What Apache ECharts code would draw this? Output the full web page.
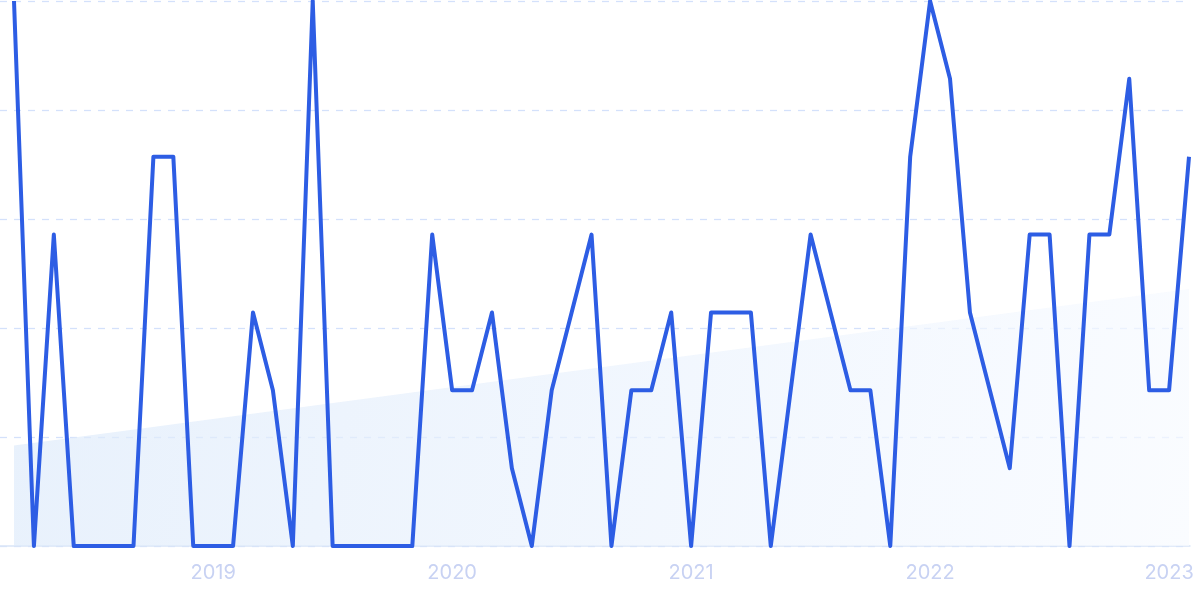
<!DOCTYPE html>
<html>
<head>
<meta charset="utf-8">
<script src="https://cdn.jsdelivr.net/npm/echarts@6/dist/echarts.min.js"></script>
<style>
html,body{margin:0;padding:0;background:#fff;}
#chart{width:1200px;height:599px;}
</style>
</head>
<body>
<div id="chart"></div>
<script>
// Monthly values, 2018-03 .. 2023-02
const months = [
  '2018-03','2018-04','2018-05','2018-06','2018-07','2018-08','2018-09','2018-10','2018-11','2018-12',
  '2019-01','2019-02','2019-03','2019-04','2019-05','2019-06','2019-07','2019-08','2019-09','2019-10','2019-11','2019-12',
  '2020-01','2020-02','2020-03','2020-04','2020-05','2020-06','2020-07','2020-08','2020-09','2020-10','2020-11','2020-12',
  '2021-01','2021-02','2021-03','2021-04','2021-05','2021-06','2021-07','2021-08','2021-09','2021-10','2021-11','2021-12',
  '2022-01','2022-02','2022-03','2022-04','2022-05','2022-06','2022-07','2022-08','2022-09','2022-10','2022-11','2022-12',
  '2023-01','2023-02'
];
const values = [
  7,0,4,0,0,0,0,5,5,0,
  0,0,3,2,0,7,0,0,0,0,0,4,
  2,2,3,1,0,2,3,4,0,2,2,3,
  0,3,3,3,0,2,4,3,2,2,0,5,
  7,6,3,2,1,4,4,0,4,4,6,2,
  2,5
];
// Trend line end values (first and last month)
const trendEnds = [1.29, 3.3];
const tickLabels = ['2019','2020','2021','2022','2023'];
const tickMonths = ['2019-01','2020-01','2021-01','2022-01','2023-01'];

const tickIdx = tickMonths.map(m => months.indexOf(m));
const lineData = values.map((v, i) => [i, v]);
const trendData = [[0, trendEnds[0]], [months.length - 1, trendEnds[1]]];

const chart = echarts.init(document.getElementById('chart'));
chart.setOption({
  animation: false,
  grid: { left: 0, right: 10, top: 1, bottom: 53, containLabel: false },
  xAxis: {
    type: 'value',
    min: -0.703,
    max: 59.05,
    splitLine: { show: false },
    axisTick: { show: false },
    axisLine: { show: true, lineStyle: { color: '#d9e5f8', width: 1.5 } },
    axisLabel: {
      customValues: tickIdx,
      formatter: v => tickLabels[tickIdx.indexOf(Math.round(v))] || '',
      color: '#c8d2f3',
      fontSize: 20,
      fontFamily: 'Inter',
      margin: 17
    }
  },
  yAxis: {
    type: 'value',
    min: 0,
    max: 7,
    interval: 1.4,
    axisLabel: { show: false },
    axisLine: { show: false },
    axisTick: { show: false },
    splitLine: { show: true, lineStyle: { color: '#d4e1fb', type: [7, 7], width: 1.3 } }
  },
  series: [
    {
      type: 'line',
      data: trendData,
      symbol: 'none',
      lineStyle: { width: 0, opacity: 0 },
      areaStyle: {
        color: new echarts.graphic.LinearGradient(0, 0, 1, 1, [
          { offset: 0, color: '#ddeafa' },
          { offset: 1, color: '#f7faff' }
        ])
      },
      z: 1
    },
    {
      type: 'line',
      data: lineData,
      symbol: 'none',
      lineStyle: { color: '#2d5de4', width: 4, join: 'round' },
      z: 3
    }
  ]
});
</script>
</body>
</html>
